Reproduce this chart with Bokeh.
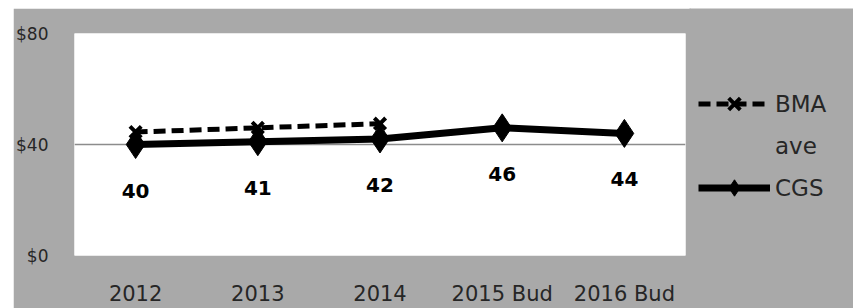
from bokeh.plotting import figure
from bokeh.layouts import row
from bokeh.models import Legend, LegendItem, FixedTicker, ColumnDataSource
from bokeh.core.properties import value
from bokeh.embed import file_html
from bokeh.resources import INLINE

categories = ["2012", "2013", "2014", "2015 Bud", "2016 Bud"]
bma_years = ["2012", "2013", "2014"]
bma_values = [44.5, 46, 47.5]
cgs_values = [40, 41, 42, 46, 44]
cgs_labels = ["40", "41", "42", "46", "44"]
y_ticks = [0, 40, 80]
y_tick_labels = {0: "$0", 40: "$40", 80: "$80"}
legend_labels = ["BMA", "ave", "CGS"]

FONT = "DejaVu Sans"
TXT = "#262626"
BG = "#a9a9a9"

p = figure(x_range=categories, y_range=(0, 80), width=678, height=300,
           output_backend="svg", toolbar_location=None,
           min_border_left=60, min_border_right=6, min_border_top=25, min_border_bottom=52)
p.margin = (8, 0, 0, 13)
p.frame_align = False
p.border_fill_color = BG
p.background_fill_color = "white"
p.outline_line_color = None

p.xgrid.grid_line_color = None
p.ygrid.ticker = FixedTicker(ticks=[40])
p.ygrid.grid_line_color = "#8c8c8c"
p.ygrid.grid_line_width = 1.5

p.yaxis.ticker = FixedTicker(ticks=y_ticks)
p.yaxis.major_label_overrides = y_tick_labels
for ax in (p.xaxis, p.yaxis):
    ax.axis_line_color = None
    ax.major_tick_line_color = None
    ax.minor_tick_line_color = None
    ax.major_label_text_font = FONT
    ax.major_label_text_color = TXT
p.yaxis.major_label_text_font_size = "17px"
p.yaxis.major_label_standoff = 20
p.xaxis.major_label_text_font_size = "21px"
p.xaxis.major_label_standoff = 20

bma_src = ColumnDataSource(dict(x=bma_years, y=bma_values))
cgs_src = ColumnDataSource(dict(x=categories, y=cgs_values, lab=cgs_labels))

BMA_LINE = dict(line_color="black", line_width=5, line_dash="12 6")
BMA_PT = dict(marker="x", line_color="black", line_width=4)
CGS_LINE = dict(line_color="black", line_width=7)
CGS_PT = dict(marker="diamond", fill_color="black", line_color="black")

p.line("x", "y", source=bma_src, **BMA_LINE)
p.scatter("x", "y", source=bma_src, size=16, **BMA_PT)
p.line("x", "y", source=cgs_src, **CGS_LINE)
p.scatter("x", "y", source=cgs_src, size=28, **CGS_PT)

p.text("x", "y", text="lab", source=cgs_src, text_font=value(FONT), text_font_style="bold",
       text_font_size="20px", text_color="black", text_align="center", text_baseline="middle",
       y_offset=46)

# legend panel: a separate figure so that the legend is not clipped by the plot frame.
# The proxy renderers below hold one point outside this panel's visible ranges and
# only serve to give the legend its line/marker styles.
lg = figure(width=164, height=300, x_range=(0, 1), y_range=(0, 1),
            output_backend="svg", toolbar_location=None,
            min_border_left=0, min_border_right=0, min_border_top=0, min_border_bottom=0)
lg.margin = (8, 0, 0, -2)
lg.frame_align = False
lg.axis.visible = False
lg.grid.grid_line_color = None
lg.outline_line_color = None
lg.background_fill_color = BG
lg.border_fill_color = BG

proxy = ColumnDataSource(dict(x=[-5], y=[-5]))
l_bma = lg.line("x", "y", source=proxy, **BMA_LINE)
s_bma = lg.scatter("x", "y", source=proxy, size=16, **BMA_PT)
l_none = lg.line("x", "y", source=proxy, line_alpha=0)
l_cgs = lg.line("x", "y", source=proxy, **CGS_LINE)
s_cgs = lg.scatter("x", "y", source=proxy, size=28, **CGS_PT)

legend = Legend(items=[LegendItem(label=legend_labels[0], renderers=[l_bma, s_bma]),
                       LegendItem(label=legend_labels[1], renderers=[l_none]),
                       LegendItem(label=legend_labels[2], renderers=[l_cgs, s_cgs])],
                location=(9, 100), orientation="vertical",
                glyph_width=72, glyph_height=41, label_height=41, spacing=1,
                label_standoff=5, padding=0, margin=0,
                border_line_color=None, background_fill_alpha=0,
                label_text_font=FONT, label_text_font_size="23px", label_text_color=TXT)
lg.add_layout(legend, "center")

layout = row(p, lg)
open("out.html", "w").write(file_html(layout, INLINE))
